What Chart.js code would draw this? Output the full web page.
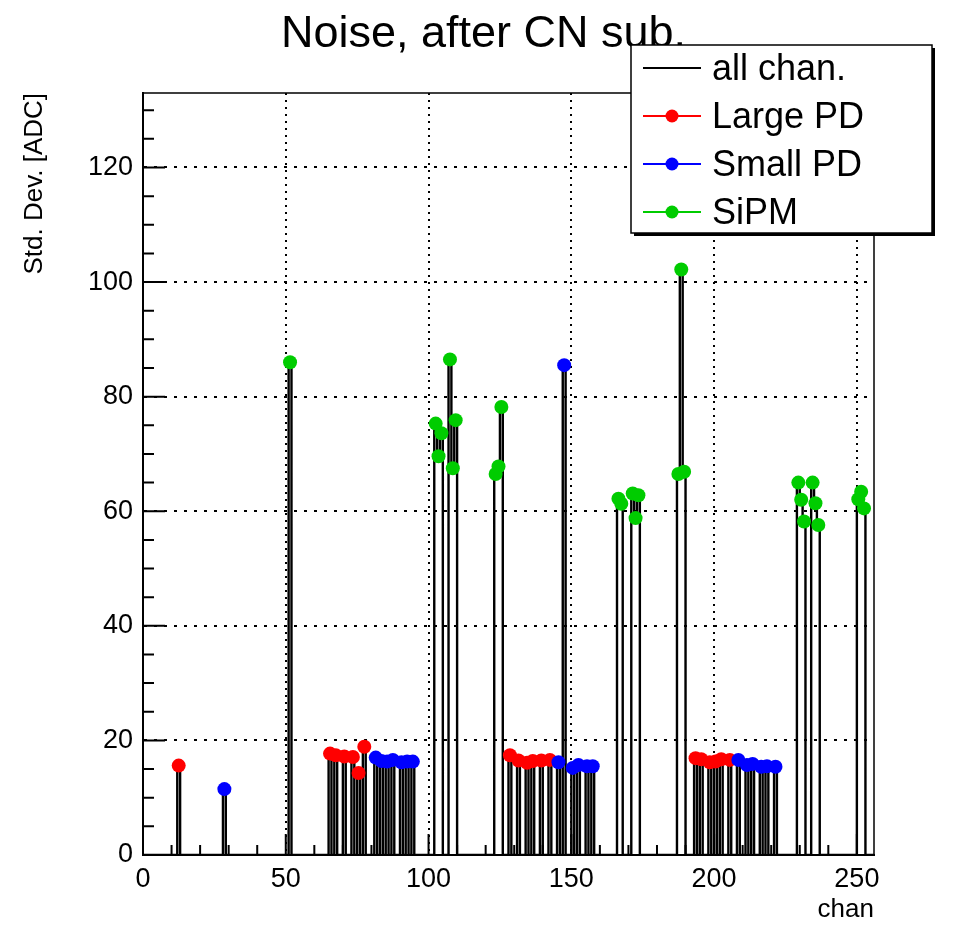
<!DOCTYPE html>
<html>
<head>
<meta charset="utf-8">
<script src="https://cdn.jsdelivr.net/npm/chart.js@4.4.1/dist/chart.umd.min.js"></script>
<style>
body{margin:0;background:#fff;}
#wrap{width:967px;height:925px;position:relative;}
</style>
</head>
<body>
<div id="wrap"><canvas id="noiseChart"></canvas></div>
<script>
// channel count and tick labels
const nChan = 256;
const xTicks = [0, 50, 100, 150, 200, 250];
const yTicks = [0, 20, 40, 60, 80, 100, 120];

// Large PD channels
const largeChans = [12, 65, 67, 70, 73, 75, 77, 128, 131, 134, 136, 139, 142, 193, 195, 198, 200, 202, 205];
const largeVals  = [15.6, 17.7, 17.4, 17.2, 17.1, 14.3, 18.9, 17.4, 16.5, 16.1, 16.4, 16.5, 16.6, 16.9, 16.7, 16.2, 16.3, 16.7, 16.6];

// Small PD channels
const smallChans = [28, 81, 83, 85, 87, 90, 92, 94, 145, 147, 150, 152, 155, 157, 208, 211, 213, 216, 218, 221];
const smallVals  = [11.5, 17.0, 16.4, 16.3, 16.6, 16.2, 16.3, 16.3, 16.2, 85.5, 15.2, 15.7, 15.5, 15.5, 16.6, 15.7, 15.9, 15.4, 15.5, 15.4];

// SiPM channels
const sipmChans = [51, 102, 103, 104, 107, 108, 109, 123, 124, 125, 166, 167, 171, 172, 173, 187, 188, 189, 229, 230, 231, 234, 235, 236, 250, 251, 252];
const sipmVals  = [86.0, 75.3, 69.6, 73.6, 86.5, 67.5, 75.9, 66.5, 67.8, 78.2, 62.2, 61.3, 63.1, 58.8, 62.8, 66.5, 102.2, 66.9, 65.0, 62.0, 58.2, 65.0, 61.4, 57.6, 62.1, 63.4, 60.5];

const family = "'Liberation Sans', Arial, sans-serif";

// all channels histogram = union of the three groups
const allVals = new Array(nChan).fill(0);
[[largeChans, largeVals], [smallChans, smallVals], [sipmChans, sipmVals]].forEach(([ch, v]) => {
  ch.forEach((c, i) => { allVals[c] = v[i]; });
});
const histPoints = allVals.map((v, c) => ({x: c, y: v}));
histPoints.push({x: nChan, y: 0});

function binCenters(chans, vals){
  return chans.map((c, i) => ({x: c + 0.5, y: vals[i]}));
}

function markerSet(label, chans, vals, color, order){
  return {
    label: label,
    data: binCenters(chans, vals),
    showLine: false,
    borderColor: color,
    backgroundColor: color,
    pointBackgroundColor: color,
    pointBorderWidth: 0,
    pointRadius: 7,
    pointHoverRadius: 7,
    order: order
  };
}

const transparent = 'rgba(0,0,0,0)';

// title centred on the whole canvas, like the ROOT pad title
const padTitle = {
  id: 'padTitle',
  afterDraw(chart, args, opts){
    const ctx = chart.ctx;
    ctx.save();
    ctx.fillStyle = '#000';
    ctx.font = '45px ' + family;
    ctx.textAlign = 'center';
    ctx.textBaseline = 'alphabetic';
    ctx.fillText(opts.text, chart.width / 2, 47);
    ctx.restore();
  }
};

// inner ticks and frame, ROOT style
const rootFrame = {
  id: 'rootFrame',
  afterDatasetsDraw(chart){
    const {ctx, chartArea: a, scales: {x, y}} = chart;
    ctx.save();
    ctx.strokeStyle = '#000';
    ctx.lineWidth = 2;
    ctx.beginPath();
    for (let v = 0; v <= y.max; v += 5) {
      const py = y.getPixelForValue(v);
      const len = v % 20 === 0 ? 22 : 11;
      ctx.moveTo(a.left, py);
      ctx.lineTo(a.left + len, py);
    }
    for (let c = 0; c <= x.max; c += 10) {
      const px = x.getPixelForValue(c);
      const len = c % 50 === 0 ? 21 : 10;
      ctx.moveTo(px, a.bottom);
      ctx.lineTo(px, a.bottom - len);
    }
    ctx.stroke();
    ctx.lineWidth = 1.5;
    ctx.strokeRect(a.left, a.top, a.right - a.left, a.bottom - a.top);
    ctx.restore();
  }
};

// boxed legend with shadow
const boxLegend = {
  id: 'boxLegend',
  afterDraw(chart){
    const ctx = chart.ctx;
    const bx = 631, by = 45, bw = 301, bh = 188;
    ctx.save();
    ctx.fillStyle = '#000';
    ctx.fillRect(bx + 3, by + 3, bw, bh);
    ctx.fillStyle = '#fff';
    ctx.fillRect(bx, by, bw, bh);
    ctx.lineWidth = 1.5;
    ctx.strokeStyle = '#000';
    ctx.strokeRect(bx, by, bw, bh);
    chart.data.datasets.forEach((ds, i) => {
      const ly = by + 23 + i * 48;
      ctx.strokeStyle = ds.borderColor;
      ctx.lineWidth = 2;
      ctx.beginPath();
      ctx.moveTo(bx + 12, ly);
      ctx.lineTo(bx + 70, ly);
      ctx.stroke();
      if (ds.pointRadius) {
        ctx.fillStyle = ds.pointBackgroundColor;
        ctx.beginPath();
        ctx.arc(bx + 41, ly, 6.5, 0, 2 * Math.PI);
        ctx.fill();
      }
      ctx.fillStyle = '#000';
      ctx.font = '36px ' + family;
      ctx.textBaseline = 'middle';
      ctx.fillText(ds.label, bx + 81, ly + 2);
    });
    ctx.restore();
  }
};

new Chart(document.getElementById('noiseChart'), {
  type: 'line',
  data: {
    datasets: [
      {
        label: 'all chan.',
        data: histPoints,
        stepped: true,
        borderColor: '#000',
        borderWidth: 2.4,
        pointRadius: 0,
        fill: false,
        order: 10
      },
      markerSet('Large PD', largeChans, largeVals, '#ff0000', 3),
      markerSet('Small PD', smallChans, smallVals, '#0000ff', 2),
      markerSet('SiPM', sipmChans, sipmVals, '#00cc00', 1)
    ]
  },
  options: {
    responsive: true,
    maintainAspectRatio: false,
    animation: false,
    layout: {padding: {left: 0, right: 93, top: 93, bottom: 0}},
    plugins: {
      legend: {display: false},
      tooltip: {enabled: false},
      title: {display: false},
      padTitle: {text: 'Noise, after CN sub.'}
    },
    scales: {
      x: {
        type: 'linear',
        min: 0,
        max: nChan,
        afterFit(s){ s.height = 70; },
        ticks: {
          stepSize: 50,
          includeBounds: false,
          autoSkip: false,
          maxRotation: 0,
          padding: 8,
          color: '#000',
          font: {size: 27, family: family},
          callback: v => xTicks.includes(v) ? v : ''
        },
        grid: {
          drawTicks: false,
          lineWidth: 2,
          color: c => (c.tick && c.tick.value > 0 && xTicks.includes(c.tick.value)) ? '#000' : transparent
        },
        border: {color: '#000', width: 2, dash: [2, 5]},
        title: {
          display: true,
          text: 'chan',
          align: 'end',
          color: '#000',
          font: {size: 26, family: family},
          padding: {top: 0, bottom: 0}
        }
      },
      y: {
        min: 0,
        max: 133,
        afterFit(s){ s.width = 143; },
        ticks: {
          stepSize: 20,
          includeBounds: false,
          padding: 10,
          color: '#000',
          font: {size: 27, family: family},
          callback: v => yTicks.includes(v) ? v : ''
        },
        grid: {
          drawTicks: false,
          lineWidth: 2,
          color: c => (c.tick && c.tick.value > 0 && yTicks.includes(c.tick.value)) ? '#000' : transparent
        },
        border: {color: '#000', width: 2, dash: [3, 7]},
        title: {
          display: true,
          text: 'Std. Dev. [ADC]',
          align: 'end',
          color: '#000',
          font: {size: 26, family: family},
          padding: {top: 19, bottom: 0}
        }
      }
    }
  },
  plugins: [rootFrame, padTitle, boxLegend]
});
</script>
</body>
</html>
